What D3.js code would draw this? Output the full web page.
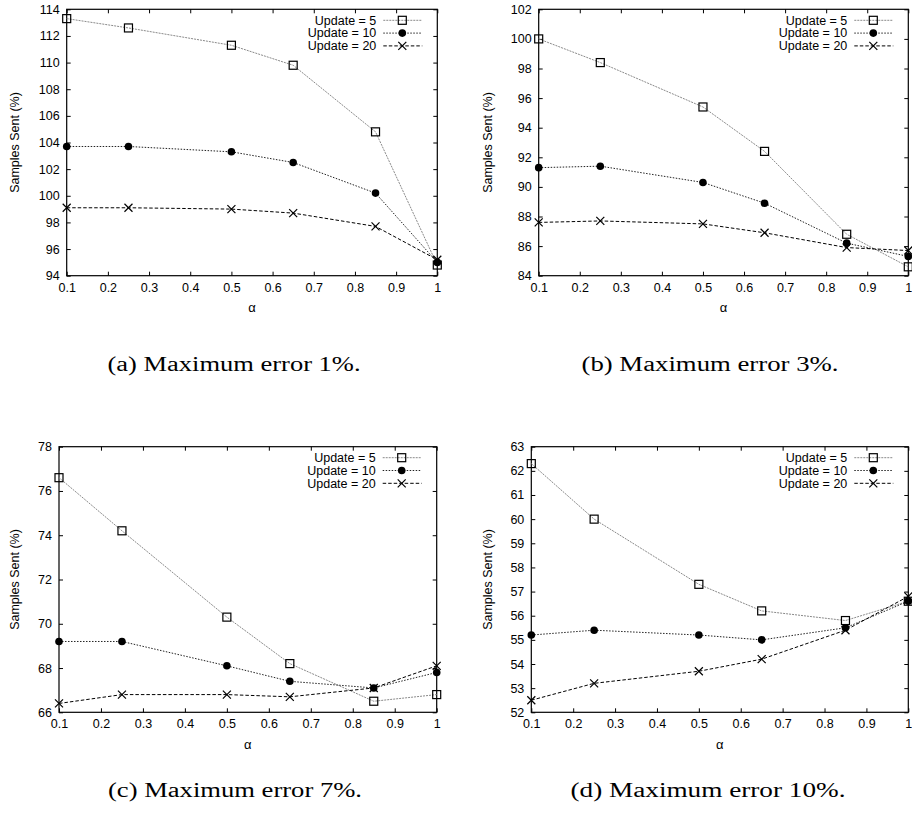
<!DOCTYPE html>
<html>
<head>
<meta charset="utf-8">
<script src="https://cdn.jsdelivr.net/npm/d3@7"></script>
<style>
  body { margin: 0; background: #fff; }
  svg { display: block; }
  .tick text { font-family: "Liberation Sans", Arial, sans-serif; font-size: 12.5px; fill: #000; }
</style>
</head>
<body>
<svg id="chart" width="912" height="814"></svg>
<script>
// alpha values on the x axis
var alphas = [0.1, 0.25, 0.5, 0.65, 0.85, 1];
var xTickValues = [0.1, 0.2, 0.3, 0.4, 0.5, 0.6, 0.7, 0.8, 0.9, 1];
var seriesNames = ["Update = 5", "Update = 10", "Update = 20"];

// samples sent (%), one array per update interval and max error
var upd5_err1 = [113.3, 112.6, 111.3, 109.8, 104.8, 94.8];
var upd10_err1 = [103.7, 103.7, 103.3, 102.5, 100.2, 95.0];
var upd20_err1 = [99.1, 99.1, 99.0, 98.7, 97.7, 95.2];

var upd5_err3 = [100.0, 98.4, 95.4, 92.4, 86.8, 84.6];
var upd10_err3 = [91.3, 91.4, 90.3, 88.9, 86.2, 85.3];
var upd20_err3 = [87.6, 87.7, 87.5, 86.9, 85.9, 85.7];

var upd5_err7 = [76.6, 74.2, 70.3, 68.2, 66.5, 66.8];
var upd10_err7 = [69.2, 69.2, 68.1, 67.4, 67.1, 67.8];
var upd20_err7 = [66.4, 66.8, 66.8, 66.7, 67.1, 68.1];

var upd5_err10 = [62.3, 60.0, 57.3, 56.2, 55.8, 56.6];
var upd10_err10 = [55.2, 55.4, 55.2, 55.0, 55.5, 56.6];
var upd20_err10 = [52.5, 53.2, 53.7, 54.2, 55.4, 56.8];

var captions = ["(a) Maximum error 1%.", "(b) Maximum error 3%.", "(c) Maximum error 7%.", "(d) Maximum error 10%."];
var yRanges = [[94, 114], [84, 102], [66, 78], [52, 63]];
var yTickSteps = [2, 2, 2, 1];

// panel frames (plot area) and caption placement
var panels = [
    { x0: 66.7, x1: 437.3, y0: 9.3, y1: 275.7, ylab: 15, cx: 234, cy: 371, cw: 253, series: [upd5_err1, upd10_err1, upd20_err1] },
    { x0: 538.7, x1: 908.3, y0: 9.3, y1: 275.7, ylab: 488, cx: 710, cy: 371, cw: 257, series: [upd5_err3, upd10_err3, upd20_err3] },
    { x0: 59, x1: 436.7, y0: 446.7, y1: 712.3, ylab: 15, cx: 235, cy: 797, cw: 254, series: [upd5_err7, upd10_err7, upd20_err7] },
    { x0: 531.3, x1: 908.3, y0: 446.7, y1: 712.3, ylab: 488, cx: 708, cy: 797, cw: 275, series: [upd5_err10, upd10_err10, upd20_err10] }
];

var lineStyles = [
    { stroke: "#8a8a8a", dash: "2,1", width: 1 },
    { stroke: "#222", dash: "1.5,1.5", width: 1 },
    { stroke: "#000", dash: "3.5,2", width: 1 }
];

var svg = d3.select("#chart");

var drawMarker = function (g, type, x, y) {
    if (type === 0) {
        g.append("rect").attr("x", x - 4).attr("y", y - 4).attr("width", 8).attr("height", 8)
            .attr("fill", "none").attr("stroke", "#000").attr("stroke-width", 1.2);
    } else if (type === 1) {
        g.append("circle").attr("cx", x).attr("cy", y).attr("r", 3.8).attr("fill", "#000");
    } else {
        g.append("path").attr("d", "M" + (x - 4) + "," + (y - 4) + "L" + (x + 4) + "," + (y + 4) +
            "M" + (x - 4) + "," + (y + 4) + "L" + (x + 4) + "," + (y - 4))
            .attr("stroke", "#000").attr("stroke-width", 1.2);
    }
};

panels.forEach(function (p, i) {
    var x = d3.scaleLinear().domain([0.1, 1]).range([p.x0, p.x1]);
    var y = d3.scaleLinear().domain(yRanges[i]).range([p.y1, p.y0]);
    var yTicks = d3.range(yRanges[i][0], yRanges[i][1] + 0.001, yTickSteps[i]);
    var g = svg.append("g");

    var xFmt = function (d) { return d === 1 ? "1" : d3.format(".1f")(d); };

    // bottom and mirrored top ticks
    var bottom = g.append("g").attr("transform", "translate(0," + p.y1 + ")")
        .call(d3.axisBottom(x).tickValues(xTickValues).tickFormat(xFmt).tickSizeInner(-4).tickSizeOuter(0).tickPadding(7));
    g.append("g").attr("transform", "translate(0," + p.y0 + ")")
        .call(d3.axisTop(x).tickValues(xTickValues).tickFormat("").tickSizeInner(-4).tickSizeOuter(0));
    var left = g.append("g").attr("transform", "translate(" + p.x0 + ",0)")
        .call(d3.axisLeft(y).tickValues(yTicks).tickFormat(d3.format("d")).tickSizeInner(-4).tickSizeOuter(0).tickPadding(7));
    g.append("g").attr("transform", "translate(" + p.x1 + ",0)")
        .call(d3.axisRight(y).tickValues(yTicks).tickFormat("").tickSizeInner(-4).tickSizeOuter(0));
    g.selectAll(".domain").remove();
    g.selectAll(".tick line").attr("stroke", "#000");

    // frame
    g.append("rect").attr("x", p.x0).attr("y", p.y0)
        .attr("width", p.x1 - p.x0).attr("height", p.y1 - p.y0)
        .attr("fill", "none").attr("stroke", "#000").attr("stroke-width", 1.2);

    // series lines and markers
    p.series.forEach(function (vals, s) {
        var pts = alphas.map(function (a, k) { return [a, vals[k]]; });
        var line = d3.line().x(function (d) { return x(d[0]); }).y(function (d) { return y(d[1]); });
        g.append("path").datum(pts).attr("d", line)
            .attr("fill", "none")
            .attr("stroke", lineStyles[s].stroke)
            .attr("stroke-width", lineStyles[s].width)
            .attr("stroke-dasharray", lineStyles[s].dash);
    });
    p.series.forEach(function (vals, s) {
        alphas.forEach(function (a, k) { drawMarker(g, s, x(a), y(vals[k])); });
    });

    // legend
    seriesNames.forEach(function (name, s) {
        var ly = p.y0 + 11 + s * 12.8;
        g.append("text").attr("x", p.x1 - 61).attr("y", ly).attr("dy", "0.35em")
            .attr("text-anchor", "end")
            .style("font-family", "Liberation Sans, Arial, sans-serif").style("font-size", "12.5px")
            .text(name);
        g.append("line").attr("x1", p.x1 - 54).attr("x2", p.x1 - 15).attr("y1", ly).attr("y2", ly)
            .attr("stroke", lineStyles[s].stroke).attr("stroke-width", 1)
            .attr("stroke-dasharray", lineStyles[s].dash);
        drawMarker(g, s, p.x1 - 35, ly);
    });

    // axis labels
    g.append("text").attr("x", (p.x0 + p.x1) / 2).attr("y", p.y1 + 32).attr("dy", "0.35em")
        .attr("text-anchor", "middle")
        .style("font-family", "Liberation Sans, Arial, sans-serif").style("font-size", "13px")
        .text("\u03b1");
    g.append("text")
        .attr("transform", "translate(" + p.ylab + "," + ((p.y0 + p.y1) / 2) + ") rotate(-90)")
        .attr("dy", "0.35em")
        .attr("text-anchor", "middle")
        .style("font-family", "Liberation Sans, Arial, sans-serif").style("font-size", "12.5px")
        .text("Samples Sent (%)");

    // caption
    svg.append("text").attr("x", p.cx - p.cw / 2).attr("y", p.cy)
        .attr("textLength", p.cw).attr("lengthAdjust", "spacingAndGlyphs")
        .style("font-family", "Liberation Serif, Times New Roman, serif").style("font-size", "20px")
        .text(captions[i]);
});
</script>
</body>
</html>
